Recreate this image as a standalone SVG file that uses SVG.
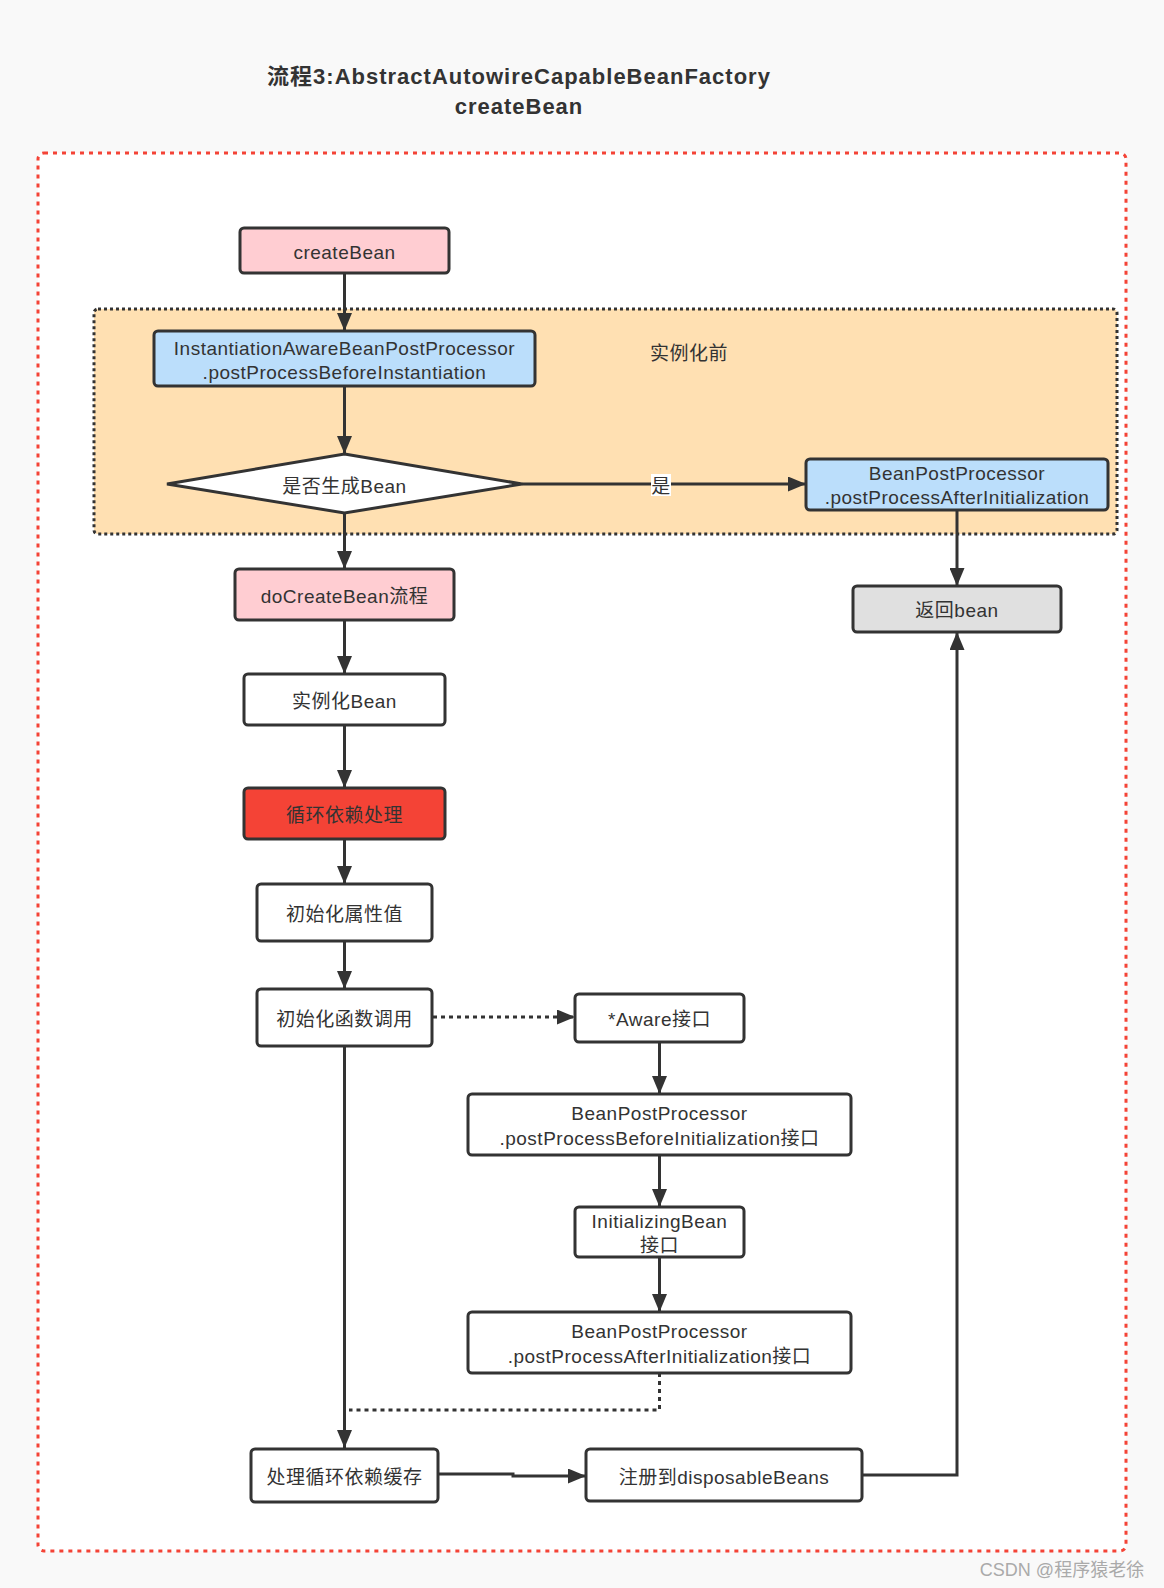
<svg xmlns="http://www.w3.org/2000/svg" width="1164" height="1588" viewBox="0 0 1164 1588">
<defs>
<marker id="ah" viewBox="0 0 18 15" refX="18" refY="7.5" markerWidth="18" markerHeight="15" markerUnits="userSpaceOnUse" orient="auto">
<path d="M0,0 L18,7.5 L0,15 Z" fill="#333"/>
</marker>
<marker id="ahv" viewBox="0 0 18 15" refX="18" refY="7.5" markerWidth="18" markerHeight="15" markerUnits="userSpaceOnUse" orient="auto">
<path d="M0,0 L18,7.5 L0,15 Z" fill="#333"/>
</marker>
<style>
text{font-family:"Liberation Sans","Noto Sans CJK SC",sans-serif;fill:#333;font-size:19px;letter-spacing:0.5px;text-anchor:middle;dominant-baseline:central}
.title{font-size:22px;font-weight:bold;letter-spacing:1px}
.n{stroke:#333;stroke-width:3}
.w{fill:#fff}.pink{fill:#ffcdd2}.blue{fill:#bbdefb}.grey{fill:#e0e0e0}.red{fill:#f44336}
.c{fill:none;stroke:#333;stroke-width:3}
.d{fill:none;stroke:#333;stroke-width:3;stroke-dasharray:4 4}
.wm{font-size:18px;fill:#aaa;letter-spacing:0}
</style>
</defs>
<rect width="1164" height="1588" fill="#f9f9f9"/>
<rect x="38" y="153" width="1088" height="1398" rx="6" fill="#fff" stroke="#f44336" stroke-width="3" stroke-dasharray="4 5"/>
<text class="title" x="519" y="76">流程3:AbstractAutowireCapableBeanFactory</text>
<text class="title" x="519" y="106">createBean</text>
<g id="before-instantiation-group">
<rect x="94" y="309" width="1023" height="225" rx="4" fill="#ffe0b2" stroke="#333" stroke-width="3" stroke-dasharray="3 3"/>
<text x="689" y="353">实例化前</text>
</g>
<g id="connectors">
<line class="c" x1="344.5" y1="273" x2="344.5" y2="331" marker-end="url(#ahv)"/>
<line class="c" x1="344.5" y1="386" x2="344.5" y2="454" marker-end="url(#ahv)"/>
<line class="c" x1="522" y1="484" x2="806" y2="484" marker-end="url(#ah)"/>
<line class="c" x1="344.5" y1="513" x2="344.5" y2="569" marker-end="url(#ahv)"/>
<line class="c" x1="957" y1="510" x2="957" y2="586" marker-end="url(#ahv)"/>
<line class="c" x1="344.5" y1="620" x2="344.5" y2="674" marker-end="url(#ahv)"/>
<line class="c" x1="344.5" y1="725" x2="344.5" y2="788" marker-end="url(#ahv)"/>
<line class="c" x1="344.5" y1="839" x2="344.5" y2="884" marker-end="url(#ahv)"/>
<line class="c" x1="344.5" y1="941" x2="344.5" y2="989" marker-end="url(#ahv)"/>
<line class="d" x1="433" y1="1017" x2="575" y2="1017" marker-end="url(#ah)"/>
<line class="c" x1="659.5" y1="1042" x2="659.5" y2="1094" marker-end="url(#ahv)"/>
<line class="c" x1="659.5" y1="1155" x2="659.5" y2="1207" marker-end="url(#ahv)"/>
<line class="c" x1="659.5" y1="1257" x2="659.5" y2="1312" marker-end="url(#ahv)"/>
<line class="c" x1="344.5" y1="1046" x2="344.5" y2="1448" marker-end="url(#ahv)"/>
<polyline class="d" points="659.5,1373 659.5,1410 349,1410"/>
<polyline class="c" points="438,1474 513,1474 513,1476 586,1476" marker-end="url(#ah)"/>
<polyline class="c" points="862,1475 957,1475 957,632" marker-end="url(#ahv)"/>
<rect x="651" y="474" width="20" height="22" fill="#fff"/>
<text x="661" y="486">是</text>
</g>
<g id="createBean"><rect class="n pink" x="240" y="228" width="209" height="45" rx="4"/><text x="344.5" y="252">createBean</text></g>
<g id="instantiationAware"><rect class="n blue" x="154" y="331" width="381" height="55" rx="4"/><text x="344.5" y="348">InstantiationAwareBeanPostProcessor</text><text x="344.5" y="372">.postProcessBeforeInstantiation</text></g>
<g id="decision"><polygon class="n w" points="344.5,454 522,484 344.5,513 167,484"/><text x="344.5" y="486">是否生成Bean</text></g>
<g id="bppAfterTop"><rect class="n blue" x="806" y="459" width="302" height="51" rx="4"/><text x="957" y="473">BeanPostProcessor</text><text x="957" y="497">.postProcessAfterInitialization</text></g>
<g id="doCreateBean"><rect class="n pink" x="235" y="569" width="219" height="51" rx="4"/><text x="344.5" y="596">doCreateBean流程</text></g>
<g id="returnBean"><rect class="n grey" x="853" y="586" width="208" height="46" rx="4"/><text x="957" y="610">返回bean</text></g>
<g id="instantiateBean"><rect class="n w" x="244" y="674" width="201" height="51" rx="4"/><text x="344.5" y="701">实例化Bean</text></g>
<g id="circularDep"><rect class="n red" x="244" y="788" width="201" height="51" rx="4"/><text x="344.5" y="815">循环依赖处理</text></g>
<g id="initProps"><rect class="n w" x="257" y="884" width="175" height="57" rx="4"/><text x="344.5" y="914">初始化属性值</text></g>
<g id="initCall"><rect class="n w" x="257" y="989" width="175" height="57" rx="4"/><text x="344.5" y="1019">初始化函数调用</text></g>
<g id="aware"><rect class="n w" x="575" y="994" width="169" height="48" rx="4"/><text x="659.5" y="1019">*Aware接口</text></g>
<g id="bppBefore"><rect class="n w" x="468" y="1094" width="383" height="61" rx="4"/><text x="659.5" y="1113">BeanPostProcessor</text><text x="659.5" y="1138">.postProcessBeforeInitialization接口</text></g>
<g id="initializingBean"><rect class="n w" x="575" y="1207" width="169" height="50" rx="4"/><text x="659.5" y="1221">InitializingBean</text><text x="659.5" y="1245">接口</text></g>
<g id="bppAfter"><rect class="n w" x="468" y="1312" width="383" height="61" rx="4"/><text x="659.5" y="1331">BeanPostProcessor</text><text x="659.5" y="1356">.postProcessAfterInitialization接口</text></g>
<g id="circularCache"><rect class="n w" x="251" y="1449" width="187" height="53" rx="4"/><text x="344.5" y="1477">处理循环依赖缓存</text></g>
<g id="disposable"><rect class="n w" x="586" y="1449" width="276" height="52" rx="4"/><text x="724" y="1477">注册到disposableBeans</text></g>
<text class="wm" x="1062" y="1570">CSDN @程序猿老徐</text>
</svg>
